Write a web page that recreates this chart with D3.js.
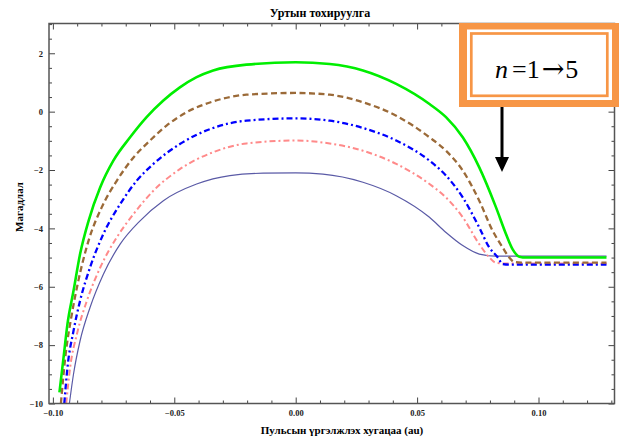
<!DOCTYPE html>
<html>
<head>
<meta charset="utf-8">
<script src="https://cdn.jsdelivr.net/npm/d3@7"></script>
<style>
  body { margin: 0; background: #fff; }
  text { font-family: "Liberation Serif", "DejaVu Serif", serif; }
</style>
</head>
<body>
<div id="wrapper"></div>
<script>
// values, [pulse duration, probability]
const n1 = [[-0.0932,-10],[-0.0915,-8.99],[-0.0888,-7.85],[-0.0847,-6.71],[-0.0792,-5.57],[-0.0723,-4.54],[-0.0641,-3.74],[-0.0545,-3.05],[-0.0408,-2.48],[-0.0271,-2.19],[-0.0134,-2.11],[0,-2.10],[0.0112,-2.14],[0.0277,-2.42],[0.0414,-2.88],[0.0551,-3.62],[0.0619,-4.14],[0.0688,-4.59],[0.0756,-4.88],[0.0825,-4.95],[0.128,-4.95]]
const n2 = [[-0.0945,-10],[-0.0929,-8.77],[-0.0901,-7.62],[-0.0860,-6.48],[-0.0805,-5.34],[-0.0737,-4.31],[-0.0668,-3.51],[-0.0586,-2.71],[-0.0477,-1.97],[-0.0340,-1.39],[-0.0203,-1.09],[0,-0.99],[0.0140,-1.09],[0.0277,-1.34],[0.0414,-1.79],[0.0551,-2.48],[0.0619,-2.94],[0.0688,-3.62],[0.0756,-4.54],[0.0797,-4.99],[0.0825,-5.18],[0.0860,-5.20],[0.128,-5.20]]
const n3 = [[-0.0953,-10],[-0.0940,-8.77],[-0.0915,-7.51],[-0.0888,-6.48],[-0.0847,-5.34],[-0.0792,-4.19],[-0.0723,-3.17],[-0.0655,-2.37],[-0.0586,-1.79],[-0.0477,-1.11],[-0.0340,-0.56],[-0.0203,-0.31],[0,-0.23],[0.0140,-0.31],[0.0277,-0.56],[0.0414,-0.99],[0.0551,-1.68],[0.0619,-2.19],[0.0688,-2.94],[0.0756,-3.97],[0.0797,-4.65],[0.0832,-4.99],[0.0852,-5.22],[0.0880,-5.24],[0.128,-5.24]]
const n4 = [[-0.0967,-10],[-0.0949,-8.42],[-0.0922,-6.94],[-0.0895,-5.79],[-0.0853,-4.42],[-0.0799,-3.28],[-0.0737,-2.37],[-0.0668,-1.57],[-0.0600,-0.99],[-0.0532,-0.48],[-0.0449,-0.02],[-0.0340,0.35],[-0.0203,0.58],[0,0.64],[0.0140,0.58],[0.0277,0.32],[0.0414,-0.14],[0.0551,-0.88],[0.0619,-1.34],[0.0688,-2.02],[0.0756,-3.05],[0.0811,-4.08],[0.0852,-4.65],[0.0879,-4.99],[0.0900,-5.15],[0.0930,-5.17],[0.128,-5.17]]
const n5 = [[-0.0973,-9.62],[-0.0956,-8.42],[-0.0940,-7.28],[-0.0915,-6.14],[-0.0888,-4.88],[-0.0853,-3.74],[-0.0805,-2.59],[-0.0751,-1.68],[-0.0682,-0.88],[-0.0614,-0.19],[-0.0545,0.38],[-0.0477,0.83],[-0.0408,1.18],[-0.0340,1.41],[-0.0203,1.61],[0,1.69],[0.0140,1.63],[0.0277,1.41],[0.0414,0.95],[0.0551,0.26],[0.0619,-0.19],[0.0688,-0.88],[0.0756,-1.91],[0.0825,-3.28],[0.0866,-4.19],[0.0893,-4.71],[0.0921,-4.97],[0.0950,-5.0],[0.128,-5.0]]

const xTicks = [-0.10, -0.05, 0.00, 0.05, 0.10]
const xTickLabels = ['\u22120.10', '\u22120.05', '0.00', '0.05', '0.10']
const yTicks = [-10, -8, -6, -4, -2, 0, 2]
const yTickLabels = ['\u221210', '\u22128', '\u22126', '\u22124', '\u22122', '0', '2']

const title = 'Уртын тохируулга'
const xTitle = 'Пульсын үргэлжлэх хугацаа (au)'
const yTitle = 'Магадлал'

const series = [
  { values: n1, color: '#5a5aa6', width: 1.2, dash: null },
  { values: n2, color: '#ff8a8a', width: 2, dash: '6,3,2,3' },
  { values: n3, color: '#0000ff', width: 2.3, dash: '6,3,2,3' },
  { values: n4, color: '#9b6a38', width: 2.3, dash: '6,3.5' },
  { values: n5, color: '#00ee00', width: 2.6, dash: null },
]

const dimensions = {
  width: 619,
  height: 441,
  margins: { top: 23.5, right: 4.5, bottom: 37.5, left: 49 },
}
dimensions.boundedWidth = dimensions.width - dimensions.margins.left - dimensions.margins.right
dimensions.boundedHeight = dimensions.height - dimensions.margins.top - dimensions.margins.bottom

const svg = d3.select('#wrapper')
  .append('svg')
    .attr('width', dimensions.width)
    .attr('height', dimensions.height)

const bounds = svg.append('g')
    .attr('transform', `translate(${dimensions.margins.left},${dimensions.margins.top})`)

const xScale = d3.scaleLinear()
    .domain([-0.1016, 0.1313])
    .range([0, dimensions.boundedWidth])

const yScale = d3.scaleLinear()
    .domain([-10, 3.02])
    .range([dimensions.boundedHeight, 0])

bounds.append('clipPath').attr('id', 'clip')
  .append('rect')
    .attr('width', dimensions.boundedWidth)
    .attr('height', dimensions.boundedHeight)

// curves
const lineGenerator = d3.line()
    .x(d => xScale(d[0]))
    .y(d => yScale(d[1]))
    .curve(d3.curveMonotoneX)

bounds.append('g')
    .attr('clip-path', 'url(#clip)')
  .selectAll('path')
  .data(series)
  .join('path')
    .attr('d', d => lineGenerator(d.values))
    .attr('fill', 'none')
    .attr('stroke', d => d.color)
    .attr('stroke-width', d => d.width)
    .attr('stroke-dasharray', d => d.dash)

// frame with inward ticks on all four sides
const tickColor = '#444'
const xMinor = d3.range(-0.10, 0.1301, 0.01).filter(v => !xTicks.some(t => Math.abs(t - v) < 1e-6))
const yMinor = d3.range(-10, 3.01, 0.5).filter(v => !yTicks.some(t => Math.abs(t - v) < 1e-6))

const axisStyle = g => {
  g.select('.domain').remove()
  g.selectAll('.tick line').attr('stroke', tickColor).attr('stroke-width', 1)
  g.selectAll('text').attr('font-size', 8.5).attr('font-weight', 'bold').attr('fill', '#222')
}

bounds.append('g')
    .attr('transform', `translate(0,${dimensions.boundedHeight})`)
    .call(d3.axisBottom(xScale).tickValues(xTicks).tickSize(-6).tickPadding(6)
      .tickFormat((d, i) => xTickLabels[i]))
    .call(axisStyle)
bounds.append('g')
    .attr('transform', `translate(0,${dimensions.boundedHeight})`)
    .call(d3.axisBottom(xScale).tickValues(xMinor).tickSize(-3).tickFormat(''))
    .call(axisStyle)
bounds.append('g')
    .call(d3.axisTop(xScale).tickValues(xTicks).tickSize(-6).tickFormat(''))
    .call(axisStyle)
bounds.append('g')
    .call(d3.axisTop(xScale).tickValues(xMinor).tickSize(-3).tickFormat(''))
    .call(axisStyle)

bounds.append('g')
    .call(d3.axisLeft(yScale).tickValues(yTicks).tickSize(-6).tickPadding(6)
      .tickFormat((d, i) => yTickLabels[i]))
    .call(axisStyle)
bounds.append('g')
    .call(d3.axisLeft(yScale).tickValues(yMinor).tickSize(-3).tickFormat(''))
    .call(axisStyle)
bounds.append('g')
    .attr('transform', `translate(${dimensions.boundedWidth},0)`)
    .call(d3.axisRight(yScale).tickValues(yTicks).tickSize(-6).tickFormat(''))
    .call(axisStyle)
bounds.append('g')
    .attr('transform', `translate(${dimensions.boundedWidth},0)`)
    .call(d3.axisRight(yScale).tickValues(yMinor).tickSize(-3).tickFormat(''))
    .call(axisStyle)

bounds.append('rect')
    .attr('width', dimensions.boundedWidth)
    .attr('height', dimensions.boundedHeight)
    .attr('fill', 'none')
    .attr('stroke', '#555')
    .attr('stroke-width', 1.5)

// titles
svg.append('text')
    .attr('x', 320).attr('y', 17)
    .attr('text-anchor', 'middle')
    .attr('font-size', 12).attr('font-weight', 'bold')
    .text(title)

svg.append('text')
    .attr('x', 342).attr('y', 434)
    .attr('text-anchor', 'middle')
    .attr('font-size', 11).attr('font-weight', 'bold')
    .text(xTitle)

svg.append('text')
    .attr('transform', 'translate(23,207) rotate(-90)')
    .attr('text-anchor', 'middle')
    .attr('font-size', 11).attr('font-weight', 'bold')
    .text(yTitle)

// callout box
const orange = '#f79646'
const callout = svg.append('g')
callout.append('rect')
    .attr('x', 459).attr('y', 23).attr('width', 160).attr('height', 84)
    .attr('fill', orange)
callout.append('rect')
    .attr('x', 467).attr('y', 29.5).attr('width', 145).attr('height', 70.5)
    .attr('fill', '#fff')
callout.append('rect')
    .attr('x', 471.3).attr('y', 33.5).attr('width', 136).attr('height', 62.3)
    .attr('fill', 'none').attr('stroke', orange).attr('stroke-width', 2.7)

const label = callout.append('text')
    .attr('x', 495).attr('y', 78)
    .attr('font-size', 26)
label.append('tspan').attr('font-style', 'italic').text('n')
label.append('tspan').attr('dx', 4).text('=1')
label.append('tspan').attr('dx', 2).attr('font-family', 'DejaVu Serif').attr('font-size', 27).text('\u2192')
label.append('tspan').attr('dx', 1).text('5')

callout.append('line')
    .attr('x1', 502).attr('x2', 502).attr('y1', 107).attr('y2', 158)
    .attr('stroke', '#000').attr('stroke-width', 3)
callout.append('path')
    .attr('d', 'M495,157 L509,157 L502,172 Z')
    .attr('fill', '#000')
</script>
</body>
</html>
